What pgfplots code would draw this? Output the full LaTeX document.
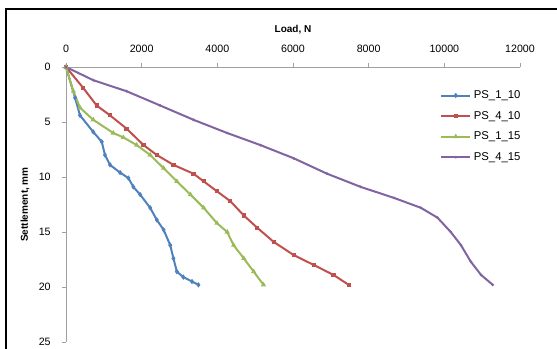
\documentclass[border=0pt]{standalone}
\usepackage{pgfplots}
\pgfplotsset{compat=1.18}
\usepackage{fontspec}
\setmainfont{Liberation Sans}
\definecolor{sBlue}{HTML}{4F81BD}
\definecolor{sRed}{HTML}{C0504D}
\definecolor{sGreen}{HTML}{9BBB59}
\definecolor{sPurple}{HTML}{8064A2}
\definecolor{axgray}{HTML}{A0A0A0}
\begin{document}
\begin{tikzpicture}
\useasboundingbox (0,0) rectangle (417.75pt,-261.75pt);
\clip (0,0) rectangle (417.75pt,-261.75pt);
\draw[black, line width=0.9pt] (4.5pt,-300pt) -- (4.5pt,-6.75pt) -- (450pt,-6.75pt);
\begin{axis}[
  at={(49.5pt,-50.25pt)}, anchor=north west,
  scale only axis, width=340.5pt, height=206.25pt,
  xmin=0, xmax=12000, ymin=0, ymax=25,
  y dir=reverse,
  axis x line*=top, axis y line*=left,
  axis line style={axgray, -},
  every tick/.style={axgray},
  tick align=outside, major tick length=3pt,
  xtick={0,2000,...,12000}, ytick={0,5,...,25},
  minor tick num=0,
  scaled x ticks=false,
  xticklabel style={/pgf/number format/1000 sep={}, yshift=4pt},
  yticklabel style={xshift=-5pt},
  tick label style={font=\fontsize{8}{9.6}\selectfont},
  /pgf/number format/assume math mode=true,
  xlabel={\textbf{Load, N}},
  ylabel={\textbf{Settlement, mm}},
  label style={font=\fontsize{7.5}{9}\selectfont},
  xlabel style={at={(axis description cs:0.5,1)}, anchor=center, yshift=27.75pt},
  ylabel style={at={(axis description cs:0,0.5)}, anchor=center, yshift=30.75pt},
  legend style={at={(axis description cs:0.824,0.925)}, anchor=north west, draw=none, fill=none,
    font=\fontsize{8.5}{10}\selectfont, row sep=4pt, inner sep=0pt},
  legend cell align=left,
  legend image code/.code={\draw[mark repeat=2,mark phase=2] plot coordinates {(0cm,0cm) (0.38cm,0cm) (0.76cm,0cm)};},
  every axis plot/.append style={line width=1.5pt, mark size=0.8pt},
  clip=false,
]
\addplot[sBlue, mark=diamond*] coordinates {
(0,0) (240,2.8) (370,4.4) (720,5.9) (945,6.8) (1030,8.0) (1165,8.9) (1430,9.6) (1650,10.1) (1780,10.9) (1960,11.6) (2225,12.8) (2400,13.9) (2580,14.8) (2755,16.2) (2840,17.4) (2930,18.6) (3100,19.1) (3330,19.5) (3500,19.8)};
\addlegendentry{PS\_1\_10}
\addplot[sRed, mark=square*] coordinates {
(0,0) (455,1.9) (810,3.5) (1165,4.4) (1600,5.6) (2050,7.1) (2400,8.0) (2840,8.9) (3370,9.7) (3640,10.4) (3990,11.3) (4345,12.2) (4700,13.5) (5050,14.6) (5490,15.9) (6020,17.1) (6550,18.0) (7070,18.9) (7470,19.8)};
\addlegendentry{PS\_4\_10}
\addplot[sGreen, mark=triangle*] coordinates {
(0,0) (195,2.2) (370,3.7) (720,4.8) (1250,6.0) (1515,6.4) (1870,7.1) (2225,8.0) (2580,9.2) (2930,10.4) (3290,11.6) (3640,12.8) (3990,14.2) (4260,15.0) (4430,16.2) (4700,17.4) (4960,18.6) (5220,19.8)};
\addlegendentry{PS\_1\_15}
\addplot[sPurple, mark=x] coordinates {
(0,0) (720,1.2) (1600,2.2) (2490,3.5) (3370,4.8) (4260,6.0) (5140,7.1) (6020,8.3) (6900,9.7) (7790,10.9) (8670,11.9) (9380,12.8) (9820,13.7) (10170,15.0) (10440,16.2) (10700,17.7) (10970,18.9) (11280,19.8)};
\addlegendentry{PS\_4\_15}
\end{axis}
\end{tikzpicture}
\end{document}
